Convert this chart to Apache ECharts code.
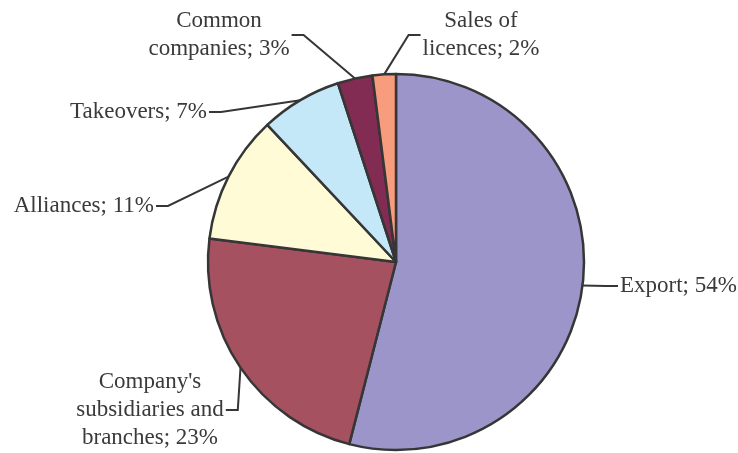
<!DOCTYPE html>
<html>
<head>
<meta charset="utf-8">
<script src="https://cdn.jsdelivr.net/npm/echarts@6/dist/echarts.min.js"></script>
<style>
html,body{margin:0;padding:0;background:#fff;}
#chart{width:738px;height:453px;}
</style>
</head>
<body>
<div id="chart"></div>
<script>
// Data
const categories = ["Export", "Company's\nsubsidiaries and\nbranches", "Alliances", "Takeovers", "Common\ncompanies", "Sales of\nlicences"];
const values = [54, 23, 11, 7, 3, 2];
const colors = ['#9B95C9', '#A5515F', '#FFFBD6', '#C5E8F8', '#822B53', '#F79D7E'];

// Label placement (annotation layout only)
const labelPlacement = [
  {x: 618, y: 286, align: 'left'},
  {x: 150, y: 410, align: 'center'},
  {x: 156, y: 206, align: 'right'},
  {x: 209, y: 112, align: 'right'},
  {x: 219, y: 35, align: 'center'},
  {x: 481, y: 35, align: 'center'}
];

const chart = echarts.init(document.getElementById('chart'), null, {renderer: 'canvas'});
chart.setOption({
  animation: false,
  backgroundColor: '#ffffff',
  series: [{
    type: 'pie',
    center: [396, 262],
    radius: [0, 188],
    startAngle: 90,
    clockwise: true,
    avoidLabelOverlap: false,
    data: categories.map((c, i) => ({name: c, value: values[i], itemStyle: {color: colors[i]}})),
    itemStyle: {borderColor: '#363636', borderWidth: 2.5},
    label: {
      show: true,
      position: 'outside',
      formatter: p => p.name + '; ' + p.value + '%',
      fontFamily: '"Liberation Serif", "Times New Roman", serif',
      fontSize: 23,
      lineHeight: 28,
      color: '#3a3a3a',
      padding: [0, 2]
    },
    labelLine: {
      show: true,
      length: 10,
      length2: 12,
      minTurnAngle: 0,
      lineStyle: {color: '#363636', width: 2}
    },
    emphasis: {disabled: true},
    labelLayout: function (params) {
      const p = labelPlacement[params.dataIndex];
      return {x: p.x, y: p.y, align: p.align, verticalAlign: 'middle'};
    }
  }]
});
</script>
</body>
</html>
